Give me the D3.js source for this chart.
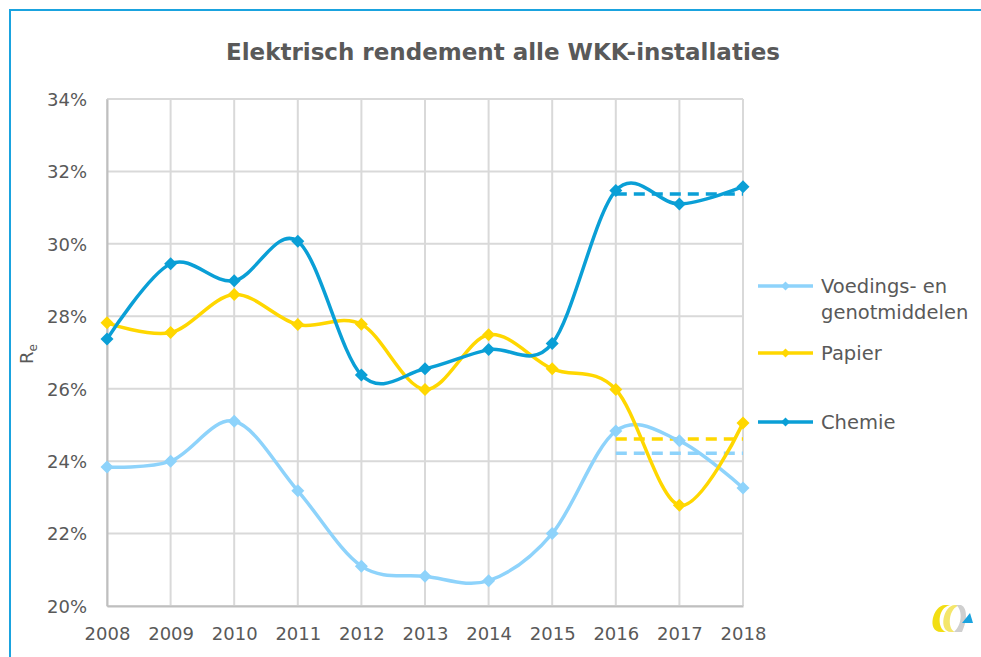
<!DOCTYPE html>
<html><head><meta charset="utf-8">
<script src="https://cdn.jsdelivr.net/npm/d3@7/dist/d3.min.js"></script>
<style>html,body{margin:0;padding:0;background:#fff;}svg{display:block;}</style>
</head><body>
<svg id="c" width="981" height="657"></svg>
<script>
const years = [2008,2009,2010,2011,2012,2013,2014,2015,2016,2017,2018];
const voedings = [23.84,24.0,25.1,23.18,21.1,20.82,20.7,22.0,24.83,24.56,23.26];
const papier   = [27.82,27.55,28.6,27.77,27.78,25.98,27.49,26.55,25.98,22.78,25.05];
const chemie   = [27.37,29.45,28.98,30.07,26.38,26.55,27.08,27.25,31.47,31.1,31.58];
const avgYears = [2016,2018];
const voedingsAvg = [24.22,24.22];
const papierAvg   = [24.61,24.61];
const chemieAvg   = [31.38,31.38];
const yTicks = [20,22,24,26,28,30,32,34];
const seriesNames = ["Voedings- en|genotmiddelen","Papier","Chemie"];
const title = "Elektrisch rendement alle WKK-installaties";

const colors = {voedings:"#8ED3FB", papier:"#FFD700", chemie:"#0A9FD6"};
const svg = d3.select("#c");
const font = "'DejaVu Sans', Verdana, sans-serif";
const textCol = "#595959";

// frame
svg.append("path").attr("d","M10,662 L10,10 L990,10").attr("fill","none")
  .attr("stroke","#1AA3DF").attr("stroke-width",2);

const x = d3.scaleLinear().domain([2008,2018]).range([107,743]);
const y = d3.scaleLinear().domain([20,34]).range([606,99]);

// title
svg.append("text").attr("x",503).attr("y",60).attr("text-anchor","middle")
  .attr("font-family",font).attr("font-weight","bold").attr("font-size",23)
  .attr("fill",textCol).text(title);

// grid
const g = svg.append("g");
g.append("g").selectAll("line").data(yTicks).join("line")
  .attr("x1",x(2008)).attr("x2",x(2018)).attr("y1",d=>y(d)).attr("y2",d=>y(d))
  .attr("stroke","#D9D9D9").attr("stroke-width",2);
g.append("g").selectAll("line").data(years).join("line")
  .attr("x1",d=>x(d)).attr("x2",d=>x(d)).attr("y1",y(34)).attr("y2",y(20))
  .attr("stroke","#D9D9D9").attr("stroke-width",2);

// axes
const yAxis = d3.axisLeft(y).tickValues(yTicks).tickSize(0).tickPadding(20)
  .tickFormat(d=>d+"%");
const xAxis = d3.axisBottom(x).tickValues(years).tickSize(0).tickPadding(21)
  .tickFormat(d3.format("d"));
const ya = svg.append("g").attr("transform",`translate(${x(2008)},0)`).call(yAxis);
const xa = svg.append("g").attr("transform",`translate(0,${y(20)})`).call(xAxis);
[ya,xa].forEach(a=>{
  a.select(".domain").attr("stroke","#BFBFBF").attr("stroke-width",2);
  a.selectAll("text").attr("font-family",font).attr("font-size",18).attr("fill",textCol);
});
ya.selectAll("text").attr("dy","0.35em");
xa.selectAll("text").attr("dy","0.71em");

// y label
const yl = svg.append("text").attr("transform","translate(33,354) rotate(-90)")
  .attr("text-anchor","middle").attr("font-family",font).attr("font-size",18).attr("fill",textCol);
yl.append("tspan").text("R");
yl.append("tspan").attr("font-size",12).attr("dy",4).text("e");

const diamond = r => `M0,${-r}L${r},0L0,${r}L${-r},0Z`;
const line = d3.line().x(d=>x(d[0])).y(d=>y(d[1])).curve(d3.curveCardinal.tension(0));
const straight = d3.line().x(d=>x(d[0])).y(d=>y(d[1]));

const series = [
  {vals:voedings, avg:voedingsAvg, col:colors.voedings},
  {vals:papier, avg:papierAvg, col:colors.papier},
  {vals:chemie, avg:chemieAvg, col:colors.chemie}
];
// dashed averages
series.forEach(s=>{
  svg.append("path").attr("d",straight(avgYears.map((yr,i)=>[yr,s.avg[i]])))
    .attr("fill","none").attr("stroke",s.col).attr("stroke-width",3.5)
    .attr("stroke-dasharray","11,7");
});
series.forEach(s=>{
  const pts = years.map((yr,i)=>[yr,s.vals[i]]);
  svg.append("path").attr("d",line(pts)).attr("fill","none")
    .attr("stroke",s.col).attr("stroke-width",3.5).attr("stroke-linejoin","round");
  svg.append("g").selectAll("path").data(pts).join("path")
    .attr("transform",d=>`translate(${x(d[0])},${y(d[1])})`)
    .attr("d",diamond(6.5)).attr("fill",s.col);
});

// legend
const legY = [286,353,422];
series.forEach((s,i)=>{
  const lg = svg.append("g").attr("transform",`translate(0,${legY[i]})`);
  lg.append("line").attr("x1",758).attr("x2",813).attr("stroke",s.col).attr("stroke-width",3.5);
  lg.append("path").attr("transform","translate(785.5,0)").attr("d",diamond(4.5)).attr("fill",s.col);
  const parts = seriesNames[i].split("|");
  const t = lg.append("text").attr("x",821).attr("font-family",font).attr("font-size",19.5).attr("fill",textCol);
  parts.forEach((p,j)=>t.append("tspan").attr("x",821).attr("dy", j===0 ? "0.35em" : "1.35em").text(p));
});

// logo
const logo = svg.append("g");
logo.append("path").attr("d","M945,605 C933,605 926,632 941,632 L946,632 C937,629 937,608 950,605 Z").attr("fill","#F2DE12");
logo.append("path").attr("d","M955,605 C943,605 938,632 951,632 L955,632 C947,629 948,608 960,605 Z").attr("fill","#F4E66A");
logo.append("path").attr("d","M956,605 L961,605 C968,608 967,622 962,632 L954,632 C962,625 963,610 956,605 Z").attr("fill","#CFCFCF");
logo.append("path").attr("d","M970,613 L973,623 L962,623 Z").attr("fill","#1AA3DF");
</script>
</body></html>
